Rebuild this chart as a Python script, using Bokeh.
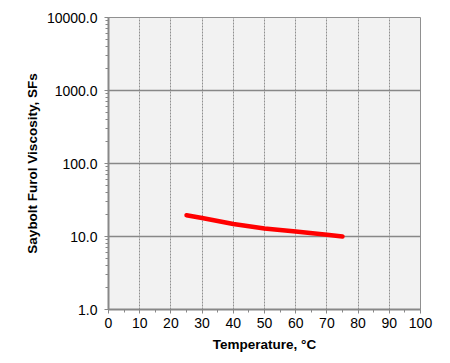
from bokeh.plotting import figure
from bokeh.models import FixedTicker, NumeralTickFormatter, Range1d
from bokeh.embed import file_html
from bokeh.resources import INLINE

temperature = [25, 30, 40, 50, 60, 70, 75]
viscosity = [19.6, 17.9, 14.8, 12.9, 11.7, 10.6, 10.0]
x_ticks = [0, 10, 20, 30, 40, 50, 60, 70, 80, 90, 100]
x_minor = [5, 15, 25, 35, 45, 55, 65, 75, 85, 95]
y_ticks = [1, 10, 100, 1000, 10000]
y_minor = [m * d for d in [1, 10, 100, 1000] for m in range(2, 10)]

FONT = "Liberation Sans"

p = figure(width=434, height=355, y_axis_type="log",
           x_range=Range1d(0, 100), y_range=Range1d(1, 10000),
           output_backend="svg", toolbar_location=None,
           min_border_left=108, min_border_right=14,
           min_border_top=17, min_border_bottom=46)

p.background_fill_color = "#f2f2f2"
p.border_fill_color = "white"
p.outline_line_color = "#909090"
p.outline_line_width = 1

p.line(temperature, viscosity, line_color="#ff0000", line_width=4.5,
       line_cap="round", line_join="round")

p.xaxis.ticker = FixedTicker(ticks=x_ticks, minor_ticks=x_minor)
p.yaxis.ticker = FixedTicker(ticks=y_ticks, minor_ticks=y_minor)
p.yaxis.formatter = NumeralTickFormatter(format="0.0")

p.xgrid.grid_line_color = "#909090"
p.xgrid.grid_line_dash = "2 1"
p.xgrid.grid_line_width = 1
p.ygrid.grid_line_color = "#888888"
p.ygrid.grid_line_width = 1.5

for ax in (p.xaxis[0], p.yaxis[0]):
    ax.axis_line_color = "#888888"
    ax.axis_line_width = 2
    ax.major_tick_line_color = "#888888"
    ax.minor_tick_line_color = "#888888"
    ax.major_tick_in = 0
    ax.major_tick_out = 4
    ax.minor_tick_in = 0
    ax.minor_tick_out = 3
    ax.major_label_text_font = FONT
    ax.major_label_text_font_size = "14px"
    ax.major_label_text_color = "black"
    ax.axis_label_text_font = FONT
    ax.axis_label_text_font_size = "13.5px"
    ax.axis_label_text_font_style = "bold"
    ax.axis_label_text_color = "black"

p.xaxis.axis_label = "Temperature, °C"
p.yaxis.axis_label = "Saybolt Furol Viscosity, SFs"
p.xaxis.major_label_standoff = 4
p.xaxis.axis_label_standoff = 6
p.yaxis.major_label_standoff = 7
p.yaxis.axis_label_standoff = 4

open("out.html", "w").write(file_html(p, INLINE))
